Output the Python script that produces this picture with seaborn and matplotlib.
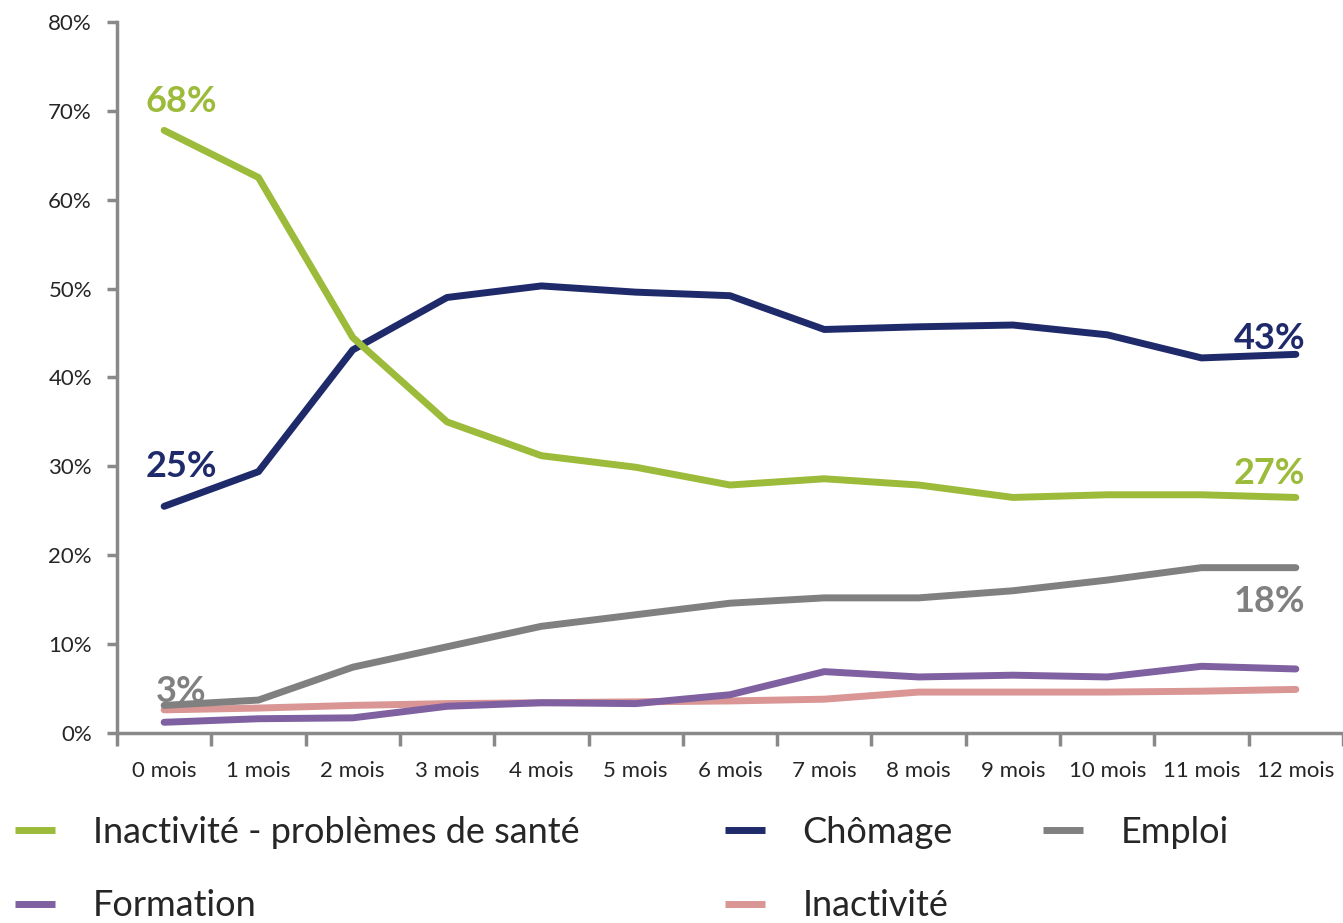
import matplotlib
matplotlib.use("Agg")
import matplotlib.pyplot as plt
from matplotlib.lines import Line2D
from matplotlib.ticker import FixedLocator, PercentFormatter
import pandas as pd
import seaborn as sns

# Data (percent of people in each situation, month after the event)
months = ["0 mois", "1 mois", "2 mois", "3 mois", "4 mois", "5 mois", "6 mois",
          "7 mois", "8 mois", "9 mois", "10 mois", "11 mois", "12 mois"]
sante = [67.8, 62.5, 44.5, 35.0, 31.2, 29.9, 27.9, 28.6, 27.9, 26.5, 26.8, 26.8, 26.5]
chomage = [25.5, 29.4, 43.1, 49.0, 50.3, 49.6, 49.2, 45.4, 45.7, 45.9, 44.8, 42.2, 42.6]
emploi = [3.1, 3.7, 7.4, 9.7, 12.0, 13.3, 14.6, 15.2, 15.2, 16.0, 17.2, 18.6, 18.6]
formation = [1.2, 1.6, 1.7, 3.0, 3.4, 3.3, 4.3, 6.9, 6.3, 6.5, 6.3, 7.5, 7.2]
inactivite = [2.6, 2.8, 3.1, 3.3, 3.4, 3.5, 3.6, 3.8, 4.6, 4.6, 4.6, 4.7, 4.9]

series = {
    "Inactivité - problèmes de santé": sante,
    "Chômage": chomage,
    "Emploi": emploi,
    "Formation": formation,
    "Inactivité": inactivite,
}
colors = {
    "Inactivité - problèmes de santé": "#9dbb3a",
    "Chômage": "#1f2a6b",
    "Emploi": "#808080",
    "Formation": "#7f60a0",
    "Inactivité": "#d99694",
}

rows = []
for name, vals in series.items():
    for i, v in enumerate(vals):
        rows.append({"mois": i, "valeur": v, "situation": name})
df = pd.DataFrame(rows)

sns.set_style("white")
plt.rcParams["font.family"] = ["Lato", "DejaVu Sans"]

fig = plt.figure(figsize=(13.43, 9.23), dpi=100)
ax = fig.add_axes([0.0871, 0.2059, 0.9129, 0.7703])

# draw back to front so the main lines sit on top
order = ["Inactivité", "Formation", "Emploi", "Chômage", "Inactivité - problèmes de santé"]
sns.lineplot(data=df, x="mois", y="valeur", hue="situation", hue_order=order,
             palette=colors, linewidth=5, legend=False, ax=ax,
             solid_capstyle="round")

ax.set_xlim(-0.5, 12.5)
ax.set_ylim(0, 80)
ax.yaxis.set_major_locator(FixedLocator(range(0, 81, 10)))
ax.yaxis.set_major_formatter(PercentFormatter(decimals=0))
ax.set_xticks(range(len(months)))
ax.set_xticklabels(months)
ax.set_xticks([i - 0.5 for i in range(len(months) + 1)], minor=True)
ax.tick_params(axis="x", which="major", length=0, pad=20, labelsize=16)
ax.tick_params(axis="x", which="minor", length=9, width=2.5, color="#898989",
               direction="out", bottom=True)
ax.tick_params(axis="y", length=7, width=2.5, color="#898989", pad=11,
               labelsize=16, left=True)
ax.set_xlabel("")
ax.set_ylabel("")
for side in ["top", "right"]:
    ax.spines[side].set_visible(False)
for side in ["left", "bottom"]:
    ax.spines[side].set_color("#898989")
    ax.spines[side].set_linewidth(2.5)

# value labels
lab = dict(fontsize=26, fontweight="bold", ha="center", va="center")
ax.text(0.18, 71.0, "68%", color=colors["Inactivité - problèmes de santé"], **lab)
ax.text(0.18, 30.0, "25%", color=colors["Chômage"], **lab)
ax.text(0.18, 4.7, "3%", color=colors["Emploi"], **lab)
ax.text(11.72, 44.4, "43%", color=colors["Chômage"], **lab)
ax.text(11.72, 29.2, "27%", color=colors["Inactivité - problèmes de santé"], **lab)
ax.text(11.72, 14.8, "18%", color=colors["Emploi"], **lab)

# legend: three columns placed like the original
columns = [
    (["Inactivité - problèmes de santé", "Formation"], 15),
    (["Chômage", "Inactivité"], 725),
    (["Emploi"], 1043),
]
for names, x_px in columns:
    handles = [Line2D([], [], color=colors[n], linewidth=5, solid_capstyle="butt")
               for n in names]
    fig.legend(handles, names, loc="upper left",
               bbox_to_anchor=(x_px / 1343, 1 - 816 / 923),
               frameon=False, fontsize=26, handlelength=1.1,
               handletextpad=1.05, labelspacing=1.12, borderpad=0,
               borderaxespad=0)

fig.savefig("out.png", dpi=100)
